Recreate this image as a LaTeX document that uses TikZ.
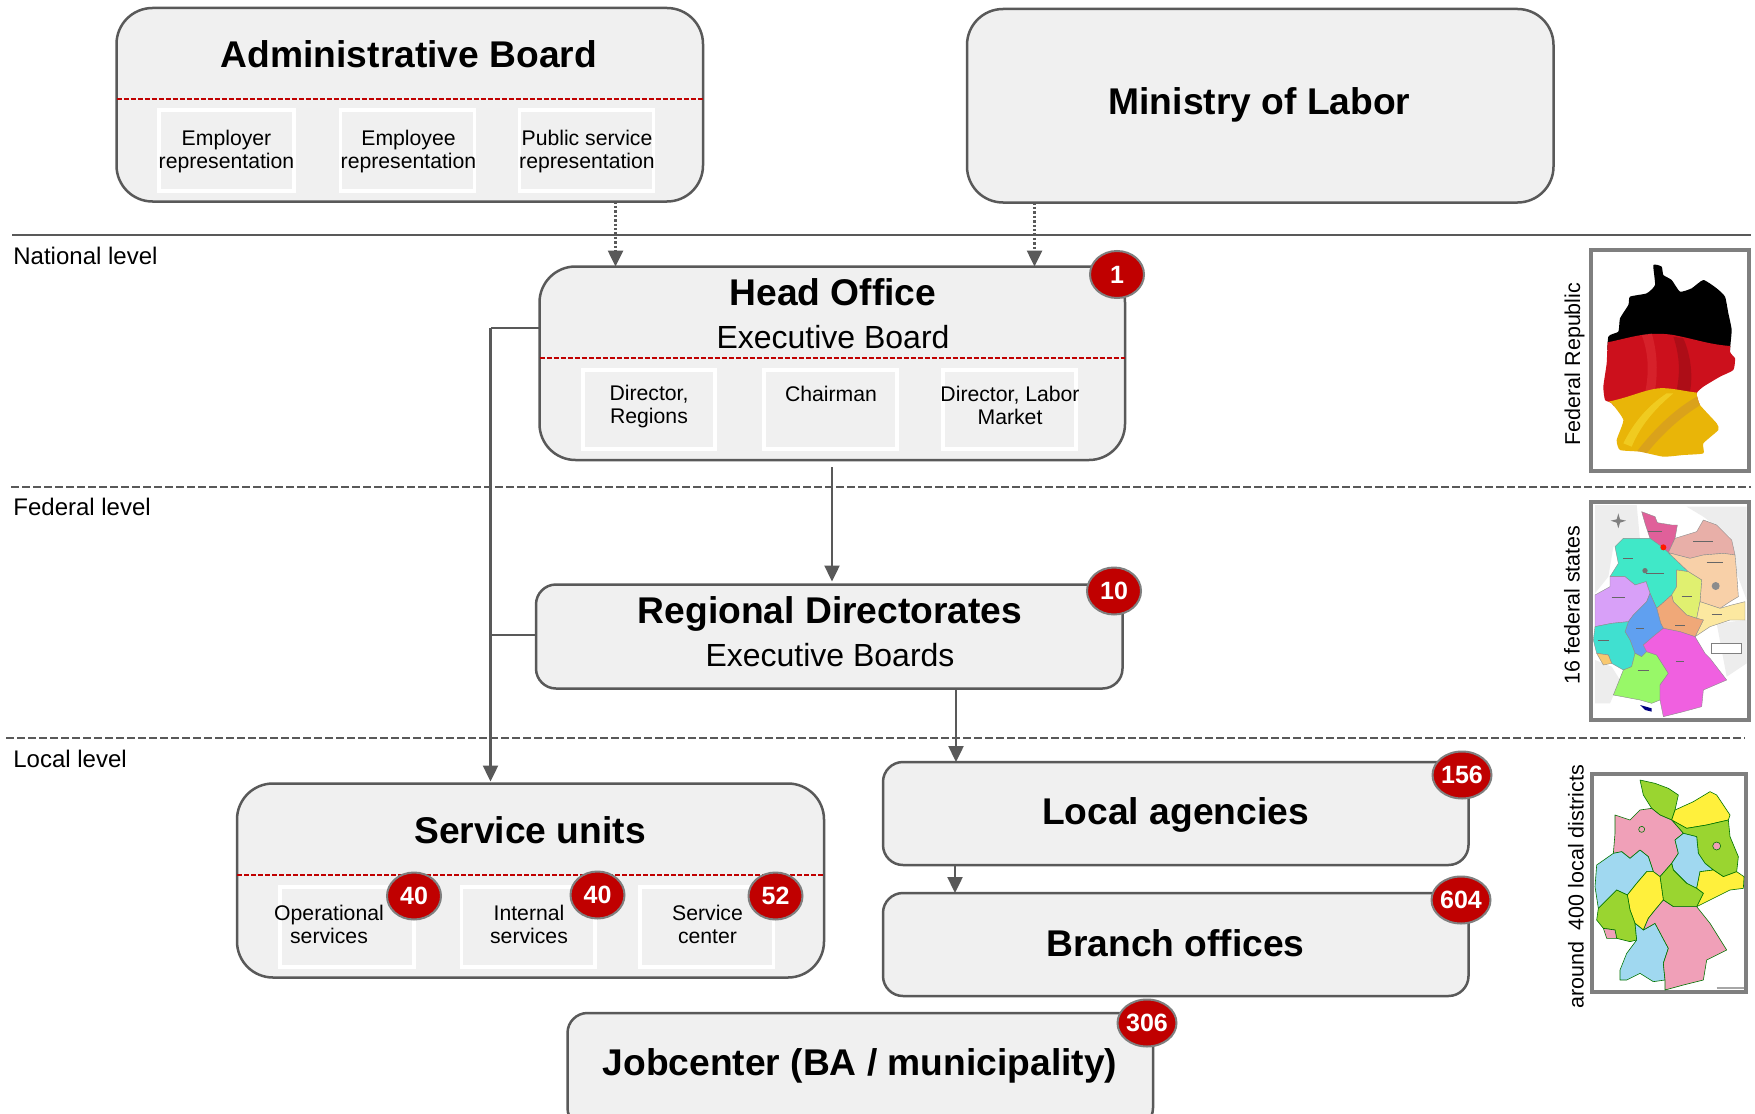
\documentclass[tikz,border=0pt]{standalone}
\usepackage{fontspec}
\setmainfont{Liberation Sans}
\usetikzlibrary{arrows.meta,shapes.geometric,calc}
\definecolor{boxfill}{HTML}{F0F0F0}
\definecolor{edgecol}{HTML}{595959}
\definecolor{redcol}{HTML}{C00000}
\definecolor{framecol}{HTML}{7F7F7F}
\definecolor{flagred}{HTML}{CC101C}
\definecolor{flagyel}{HTML}{E9B508}
\definecolor{sPink}{HTML}{E0609A}
\definecolor{sRose}{HTML}{E8AFA8}
\definecolor{sCyan}{HTML}{40E8C8}
\definecolor{sPeach}{HTML}{F8D0A8}
\definecolor{sLime}{HTML}{E0F070}
\definecolor{sCream}{HTML}{FCE8A0}
\definecolor{sOrange}{HTML}{F0A878}
\definecolor{sViolet}{HTML}{D8A0F8}
\definecolor{sBlue}{HTML}{60A0F0}
\definecolor{sTeal}{HTML}{40E0D0}
\definecolor{sSaar}{HTML}{F8C870}
\definecolor{sGreen}{HTML}{98F868}
\definecolor{sMag}{HTML}{F060E0}
\definecolor{dGreen}{HTML}{9AD530}
\definecolor{dYellow}{HTML}{FFF03C}
\definecolor{dPink}{HTML}{F0A0B8}
\definecolor{dBlue}{HTML}{A0D8F0}
\tikzset{
  bigbox/.style={draw=edgecol,fill=boxfill,line width=1.25pt,rounded corners=18pt,inner sep=0pt,outer sep=0pt},
  midbox/.style={draw=edgecol,fill=boxfill,line width=1.25pt,rounded corners=10pt,inner sep=0pt,outer sep=0pt},
  subbox/.style={draw=white,line width=1.8pt,inner sep=0pt,outer sep=0pt},
  titletext/.style={font=\fontsize{18.6}{22}\selectfont\bfseries,inner sep=0pt},
  plaintext/.style={font=\fontsize{16}{19}\selectfont,inner sep=0pt},
  smalltext/.style={font=\fontsize{10.6}{11.5}\selectfont,align=center,inner sep=0pt},
  leveltext/.style={font=\fontsize{12}{14}\selectfont,inner sep=0pt},
  badge/.style={ellipse,draw=framecol,fill=redcol,line width=1pt,minimum width=27pt,minimum height=23.5pt,inner sep=0pt,text=white,font=\fontsize{12.5}{14}\selectfont\bfseries},
  reddiv/.style={draw=redcol,line width=0.8pt,dash pattern=on 2.5pt off 1pt},
  conn/.style={draw=edgecol,line width=1.2pt,-{Triangle[length=8pt,width=7.5pt]}},
  plainconn/.style={draw=edgecol,line width=1.2pt},
  dotconn/.style={draw=edgecol,line width=1.3pt,dash pattern=on 1.2pt off 1pt,-{Triangle[length=8pt,width=7.5pt,sep=0pt]}},
  levelsolid/.style={draw=edgecol,line width=1.3pt},
  leveldash/.style={draw=edgecol,line width=1.15pt,dash pattern=on 4pt off 1.5pt},
  frame/.style={draw=framecol,line width=2pt,fill=white,inner sep=0pt,outer sep=0pt},
  rside/.style={font=\fontsize{10.75}{12}\selectfont,rotate=90,inner sep=0pt},
  st/.style={fill=#1,draw=black!45,line width=0.2pt,line join=round},
  dt/.style={fill=#1,draw=black!55!green,line width=0.3pt,line join=round},
  scrib/.style={draw=black!60,line width=0.5pt},
}
\newcommand{\pxbox}[6]{\node[#6,minimum width={(#4-#2)*0.5pt},minimum height={(#5-#3)*0.5pt}] (#1) at ({(#2+#4)/2},{(#3+#5)/2}) {};}
\begin{document}
\begin{tikzpicture}[x=0.5pt,y=-0.5pt]
\useasboundingbox (0,0) rectangle (1755,1113);
\clip (0,0) rectangle (1755,1113);
\fill[white] (0,0) rectangle (1755,1113);

% level lines
\coordinate (l1a) at (12,235); \coordinate (l1b) at (1751,235);
\coordinate (l2a) at (11,487); \coordinate (l2b) at (1751,487);
\coordinate (l3a) at (6,738); \coordinate (l3b) at (1745,738);
\draw[levelsolid] (l1a) -- (l1b);
\draw[leveldash] (l2a) -- (l2b);
\draw[leveldash] (l3a) -- (l3b);
\node[leveltext,anchor=west] (nat) at (13,256) {National level};
\node[leveltext,anchor=west] (fed) at (13,507) {Federal level};
\node[leveltext,anchor=west] (loc) at (13,759) {Local level};

% boxes
\pxbox{admin}{116.5}{8}{703}{201.5}{bigbox}
\pxbox{ministry}{967}{9}{1553.5}{202.5}{bigbox}
\pxbox{head}{539.5}{266.5}{1125}{460}{bigbox}
\pxbox{regional}{536}{584.5}{1122.5}{688.5}{midbox}
\pxbox{service}{237}{783.5}{824}{977.5}{bigbox}
\pxbox{localag}{883}{762}{1468.5}{865}{midbox}
\pxbox{branch}{883}{893}{1468.5}{996}{midbox}
\pxbox{jobc}{567.5}{1013}{1153}{1128}{midbox}

% dividers
\coordinate (ady) at (0,99); \coordinate (hdy) at (0,358); \coordinate (svy) at (0,875);
\draw[reddiv] (admin.west |- ady) -- (admin.east |- ady);
\draw[reddiv] (head.west |- hdy) -- (head.east |- hdy);
\draw[reddiv] (service.west |- svy) -- (service.east |- svy);

% sub boxes
\pxbox{a1}{159}{110}{294}{191}{subbox}
\pxbox{a2}{340.5}{110}{474.5}{191}{subbox}
\pxbox{a3}{519.5}{110}{653.5}{191}{subbox}
\pxbox{h1}{583}{370}{715}{449}{subbox}
\pxbox{h2}{764}{370}{897}{449}{subbox}
\pxbox{h3}{943}{370}{1076}{449}{subbox}
\pxbox{s1}{280}{887}{414}{967}{subbox}
\pxbox{s2}{461.5}{887}{595}{967}{subbox}
\pxbox{s3}{640}{887}{773.5}{967}{subbox}

% titles
\node[titletext] (t1) at (409,54) {Administrative Board};
\node[titletext] (t2) at (1259.5,105) {Ministry of Labor};
\node[titletext] (t3) at (833,292) {Head Office};
\node[plaintext] (t3b) at (833,337) {Executive Board};
\node[titletext] (t4) at (830,614) {Regional Directorates};
\node[plaintext] (t4b) at (830,655) {Executive Boards};
\node[titletext] (t5) at (530,830) {Service units};
\node[titletext] (t6) at (1175.5,815) {Local agencies};
\node[titletext] (t7) at (1175.5,943.5) {Branch offices};
\node[titletext] (t8) at (860,1066) {Jobcenter (BA / municipality)};

% small texts
\node[smalltext] (x1) at (226.5,151.5) {Employer\\representation};
\node[smalltext] (x2) at (408.5,151.5) {Employee\\representation};
\node[smalltext] (x3) at (587,151.5) {Public service\\representation};
\node[smalltext] (x4) at (649,407) {Director,\\Regions};
\node[smalltext] (x5) at (831,394) {Chairman};
\node[smalltext] (x6) at (1010,405) {Director, Labor\\Market};
\node[smalltext] (x7) at (329,924.5) {Operational\\services};
\node[smalltext] (x8) at (529,924.5) {Internal\\services};
\node[smalltext] (x9) at (707.5,924.5) {Service\\center};

% connectors
\coordinate (cx1) at (615.5,0); \coordinate (cx2) at (1034.5,0);
\coordinate (cx3) at (832,0); \coordinate (cx4) at (956,0); \coordinate (cx5) at (955,0);
\coordinate (cx6) at (490.5,0); \coordinate (cy1) at (0,328); \coordinate (cy2) at (0,635);
\draw[dotconn] (admin.south -| cx1) -- (head.north -| cx1);
\draw[dotconn] (ministry.south -| cx2) -- (head.north -| cx2);
\draw[conn] ([yshift=-3.5pt]head.south -| cx3) -- ([yshift=1.5pt]regional.north -| cx3);
\draw[conn] (regional.south -| cx4) -- (localag.north -| cx4);
\draw[conn] (localag.south -| cx5) -- (branch.north -| cx5);
\draw[plainconn] (head.west |- cy1) -- (cx6 |- cy1);
\draw[plainconn] (regional.west |- cy2) -- (cx6 |- cy2);
\draw[conn] (cx6 |- cy1) -- ([yshift=1pt]service.north -| cx6);

% badges
\node[badge] (b1) at (1117,274.5) {1};
\node[badge] (b2) at (1114,591) {10};
\node[badge] (b3) at (414,896) {40};
\node[badge] (b4) at (597.5,895) {40};
\node[badge] (b5) at (775.5,896) {52};
\node[badge] (b6) at (1462,775) {156};
\node[badge] (b7) at (1461,900) {604};
\node[badge] (b8) at (1147,1023) {306};

% side labels
\node[rside] (r1) at (1574.5,364) {Federal Republic};
\node[rside] (r2) at (1572,605) {16 federal states};
\node[rside] (r3) at (1576,887) {around\ \ 400 local districts};

% frames
\pxbox{f1}{1591}{250}{1749}{471}{frame}
\pxbox{f2}{1591}{502}{1749}{720}{frame}
\pxbox{f3}{1592}{774}{1746}{992}{frame}

% flag map
\begin{scope}[shift={(1540,230)},scale=0.33333]
\begin{scope}
\clip plot[smooth cycle,tension=0.3] coordinates {(340,105)(365,110)(370,135)(395,150)(420,185)(455,175)(490,150)(530,175)(555,200)(565,250)(575,300)(570,365)(585,385)(580,420)(540,440)(490,470)(470,490)(480,525)(530,580)(535,600)(490,640)(490,670)(430,675)(370,680)(300,665)(240,660)(230,630)(250,570)(215,520)(195,510)(190,470)(200,400)(205,320)(235,305)(240,265)(265,225)(270,200)(320,190)(345,165)};
\fill[black] (150,80) rectangle (620,360);
\fill[flagred] (150,345) .. controls (250,335) and (300,300) .. (400,315) .. controls (480,330) and (520,350) .. (620,350) -- (620,520) -- (150,530) -- cycle;
\fill[red!60!white,opacity=.2] (305,315) .. controls (330,380) and (325,440) .. (315,490) -- (345,480) .. controls (355,420) and (350,360) .. (335,310) -- cycle;
\fill[black,opacity=.15] (400,320) .. controls (420,380) and (420,430) .. (410,480) -- (450,485) .. controls (460,430) and (450,370) .. (430,325) -- cycle;
\fill[flagyel] (150,520) -- (205,515) .. controls (280,500) and (330,470) .. (380,475) .. controls (430,478) and (480,500) .. (620,490) -- (620,700) -- (150,700) -- cycle;
\fill[brown,opacity=.35] (290,665) .. controls (340,600) and (400,540) .. (470,500) -- (490,520) .. controls (420,560) and (360,620) .. (320,670) -- cycle;
\fill[yellow!70!white,opacity=.35] (250,640) .. controls (280,580) and (320,530) .. (380,490) -- (400,490) .. controls (340,540) and (300,590) .. (275,650) -- cycle;
\end{scope}
\end{scope}

% federal states map
\begin{scope}[shift={(1540,230)},scale=0.33333]
\fill[black!7] (165,825) -- (290,825) -- (300,930) -- (220,950) -- (205,1040) -- (165,1090) -- cycle;
\fill[black!7] (440,830) -- (620,830) -- (620,1110) -- (590,1030) -- (570,920) -- (490,860) -- cycle;
\fill[black!7] (530,1180) -- (620,1170) -- (620,1300) -- (560,1340) -- cycle;
\fill[black!7] (165,1290) -- (215,1310) -- (240,1350) -- (210,1420) -- (165,1420) -- cycle;
\filldraw[st=sPink] (305,845)--(345,860)--(352,878)--(395,885)--(412,885)--(405,925)--(385,968)--(365,950)--(330,925)--(315,880)--cycle;
\filldraw[st=sRose] (405,925)--(470,905)--(490,870)--(530,885)--(575,930)--(585,975)--(550,970)--(490,975)--(450,985)--(385,968)--cycle;
\filldraw[st=sCyan] (225,950)--(250,925)--(295,925)--(330,925)--(365,950)--(385,968)--(445,1025)--(410,1020)--(410,1070)--(395,1095)--(350,1135)--(330,1090)--(318,1055)--(285,1065)--(255,1040)--(235,1040)--(210,1040)--(235,1000)--cycle;
\filldraw[st=sPeach] (385,968)--(450,985)--(490,975)--(550,970)--(585,975)--(590,1030)--(595,1100)--(570,1115)--(540,1135)--(480,1115)--(485,1050)--(445,1025)--cycle;
\filldraw[st=sLime] (410,1020)--(445,1025)--(485,1050)--(480,1115)--(470,1165)--(440,1155)--(400,1115)--(395,1095)--(410,1070)--cycle;
\filldraw[st=sCream] (480,1115)--(540,1135)--(575,1125)--(615,1115)--(615,1170)--(570,1170)--(510,1190)--(465,1220)--(490,1170)--(470,1165)--cycle;
\filldraw[st=sOrange] (350,1135)--(395,1095)--(400,1115)--(440,1155)--(470,1165)--(490,1170)--(465,1220)--(420,1205)--(370,1195)--(362,1180)--cycle;
\filldraw[st=sViolet] (165,1095)--(210,1070)--(210,1040)--(235,1040)--(255,1040)--(285,1065)--(318,1055)--(330,1090)--(320,1115)--(280,1155)--(265,1175)--(215,1180)--(165,1190)--cycle;
\filldraw[st=sBlue] (265,1175)--(280,1155)--(320,1115)--(330,1090)--(350,1135)--(362,1180)--(370,1195)--(345,1215)--(310,1245)--(320,1265)--(305,1280)--(285,1270)--(270,1230)--(255,1205)--cycle;
\filldraw[st=sTeal] (165,1190)--(215,1180)--(265,1175)--(255,1205)--(270,1230)--(285,1270)--(275,1310)--(250,1320)--(215,1300)--(205,1275)--(170,1270)--(160,1230)--cycle;
\filldraw[st=sSaar] (170,1270)--(205,1275)--(215,1300)--(190,1305)--cycle;
\filldraw[st=sGreen] (220,1395)--(250,1320)--(275,1310)--(285,1270)--(305,1280)--(320,1265)--(350,1275)--(385,1330)--(360,1365)--(360,1410)--(335,1420)--(300,1410)--cycle;
\filldraw[st=sMag] (320,1265)--(310,1245)--(345,1215)--(370,1195)--(420,1205)--(465,1220)--(495,1270)--(510,1285)--(560,1350)--(490,1380)--(485,1430)--(430,1445)--(370,1460)--(360,1410)--(360,1365)--(385,1330)--(350,1275)--cycle;
\fill[blue!50!black] (300,1425)--(335,1435)--(335,1445)--(315,1440)--cycle;
\fill[red!80!orange] (370,952) circle (9);
\fill[black!55] (315,1022) circle (8);
\fill[black!45] (527,1068) circle (12);
\foreach \sx/\sy/\sl in {345/905/40,490/935/60,265/985/30,345/1030/55,440/1100/30,525/998/50,235/1102/40,300/1195/25,190/1232/35,420/1187/30,530/1152/30,310/1320/35,420/1295/25}
  \draw[scrib] (\sx-\sl/2,\sy) -- (\sx+\sl/2,\sy);
\draw[black!50,fill=white,line width=0.4pt] (515,1240) rectangle (605,1270);
\fill[black!50] (235,850)--(240,868)--(258,872)--(240,878)--(235,895)--(230,878)--(212,872)--(230,868)--cycle;
\end{scope}

% districts map
\begin{scope}[shift={(1540,740)},scale=0.33333]
\filldraw[dt=dGreen] (300,120)--(345,130)--(385,145)--(415,165)--(405,210)--(395,240)--(360,225)--(335,205)--(310,165)--cycle;
\filldraw[dt=dYellow] (405,210)--(460,185)--(510,155)--(530,165)--(570,225)--(565,240)--(500,255)--(440,265)--(395,240)--cycle;
\filldraw[dt=dGreen] (395,240)--(440,265)--(500,255)--(565,240)--(570,290)--(595,350)--(590,395)--(550,410)--(520,390)--(495,370)--(475,340)--(470,290)--(430,280)--cycle;
\filldraw[dt=dPink] (220,340)--(225,280)--(225,225)--(270,240)--(300,210)--(335,205)--(360,225)--(395,240)--(430,280)--(405,300)--(415,340)--(395,370)--(360,410)--(340,395)--(325,350)--(300,330)--(270,355)--(245,335)--cycle;
\filldraw[dt=dBlue] (405,300)--(430,280)--(470,290)--(475,340)--(495,370)--(520,390)--(480,395)--(470,445)--(440,430)--(400,390)--(395,370)--(415,340)--cycle;
\filldraw[dt=dYellow] (480,395)--(520,390)--(550,410)--(590,395)--(612,410)--(610,445)--(570,450)--(510,480)--(470,500)--(490,460)--(470,445)--cycle;
\filldraw[dt=dGreen] (360,410)--(395,370)--(400,390)--(440,430)--(470,445)--(490,460)--(470,500)--(400,500)--(370,480)--(365,445)--cycle;
\filldraw[dt=dBlue] (170,375)--(220,340)--(245,335)--(270,355)--(300,330)--(325,350)--(340,395)--(320,395)--(290,430)--(262,465)--(230,450)--(175,505)--(165,440)--cycle;
\filldraw[dt=dYellow] (262,465)--(290,430)--(320,395)--(340,395)--(360,410)--(365,445)--(370,480)--(345,510)--(325,535)--(310,570)--(285,550)--(270,510)--cycle;
\filldraw[dt=dGreen] (175,505)--(230,450)--(262,465)--(270,510)--(285,550)--(290,600)--(270,605)--(230,595)--(225,570)--(190,565)--(170,540)--cycle;
\filldraw[dt=dPink] (190,565)--(225,570)--(230,595)--(200,595)--cycle;
\filldraw[dt=dBlue] (240,690)--(260,640)--(290,600)--(285,550)--(310,570)--(345,550)--(385,625)--(370,670)--(375,720)--(340,725)--(300,700)--(260,720)--(240,720)--cycle;
\filldraw[dt=dPink] (310,570)--(325,535)--(345,510)--(370,480)--(400,500)--(470,500)--(510,550)--(560,630)--(500,660)--(490,720)--(430,735)--(375,750)--(375,720)--(370,670)--(385,625)--(345,550)--cycle;
\filldraw[dt=dPink] (530,318) circle (12);
\filldraw[dt=dPink] (305,268) circle (9);
\draw[black!35,line width=1pt] (530,745) -- (612,745);
\end{scope}
\end{tikzpicture}
\end{document}
